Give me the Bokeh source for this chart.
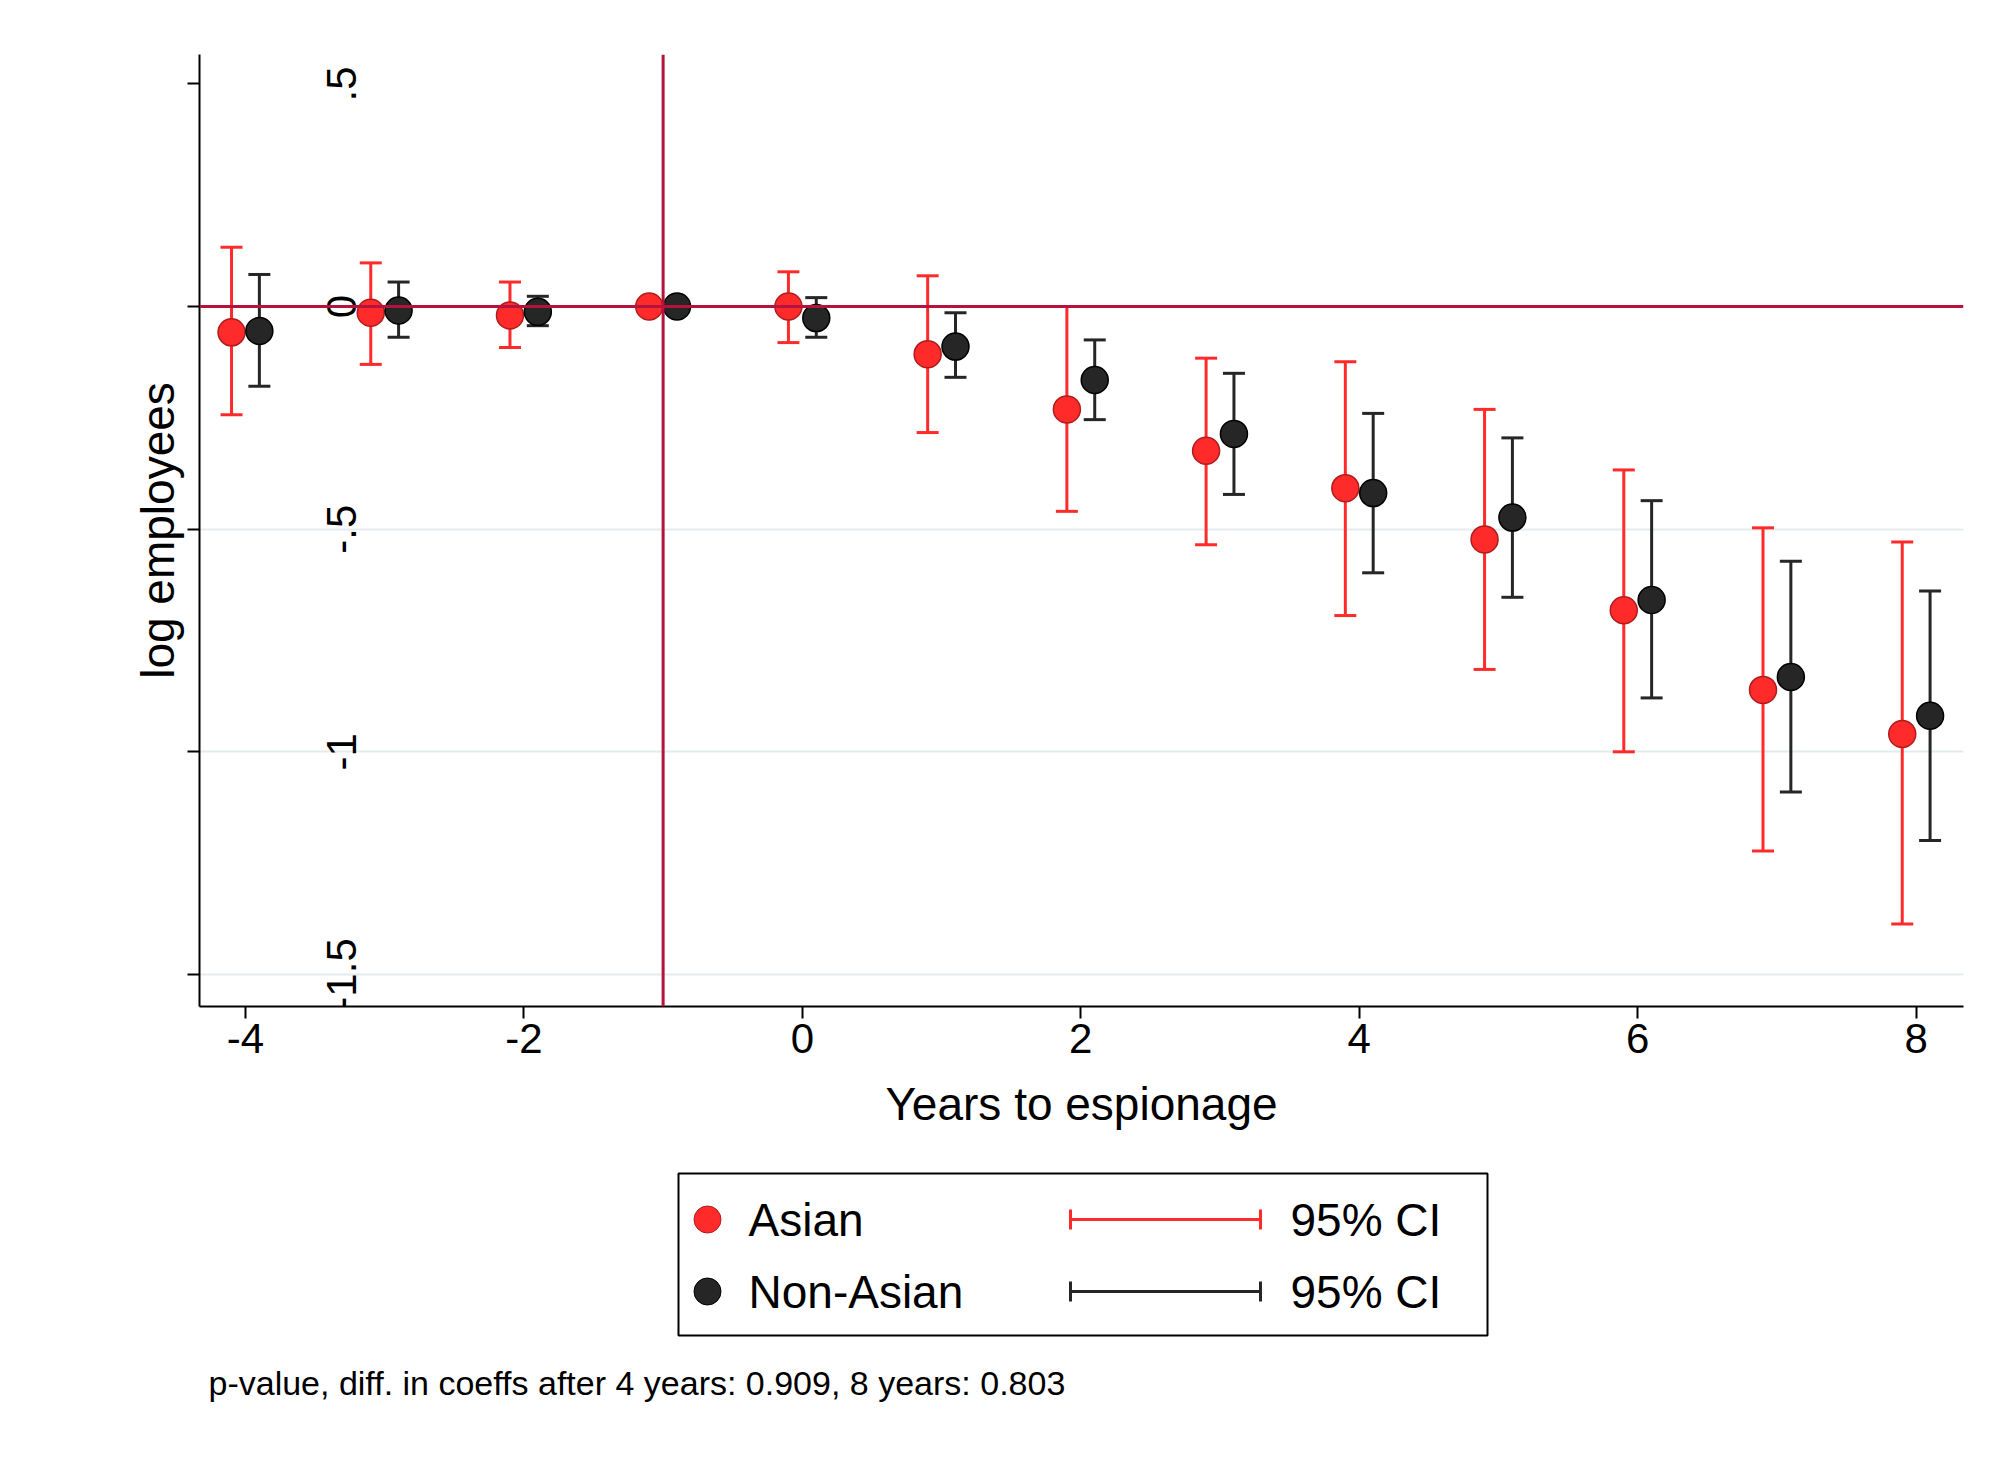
import numpy as np
from bokeh.plotting import figure
from bokeh.models import ColumnDataSource, Whisker, TeeHead, Span, FixedTicker, Range1d, Label
from bokeh.layouts import column
from bokeh.embed import file_html
from bokeh.resources import INLINE

years = [-4, -3, -2, -1, 0, 1, 2, 3, 4, 5, 6, 7, 8]
asian = [-0.058, -0.014, -0.02, 0.0, 0.0, -0.107, -0.231, -0.324, -0.408, -0.523, -0.682, -0.861, -0.96]
asian_hi = [0.133, 0.098, 0.055, 0.0, 0.078, 0.069, 0.0, -0.116, -0.124, -0.231, -0.367, -0.497, -0.529]
asian_lo = [-0.243, -0.13, -0.092, 0.0, -0.081, -0.283, -0.46, -0.535, -0.694, -0.815, -1.0, -1.223, -1.387]
non = [-0.055, -0.009, -0.012, 0.0, -0.026, -0.09, -0.165, -0.286, -0.419, -0.474, -0.659, -0.832, -0.919]
non_hi = [0.072, 0.055, 0.023, 0.0, 0.02, -0.014, -0.075, -0.15, -0.24, -0.295, -0.436, -0.572, -0.639]
non_lo = [-0.179, -0.069, -0.043, 0.0, -0.069, -0.159, -0.254, -0.422, -0.598, -0.653, -0.879, -1.09, -1.199]
xticks = [-4, -2, 0, 2, 4, 6, 8]
xlabels = {-4: "-4", -2: "-2", 0: "0", 2: "2", 4: "4", 6: "6", 8: "8"}
yticks = [0.5, 0, -0.5, -1, -1.5]
ylabels = [".5", "0", "-.5", "-1", "-1.5"]
note = "p-value, diff. in coeffs after 4 years: 0.909, 8 years: 0.803"

RED = "#ff2b2b"; DARK = "#262626"; LINE = "#b5123e"; FONT = "Liberation Sans"

p = figure(width=2000, height=1160, output_backend="svg", toolbar_location=None,
           x_range=Range1d(-4.33, 8.34), y_range=Range1d(-1.572, 0.566),
           min_border_left=199, min_border_right=37, min_border_top=54, min_border_bottom=154)
p.outline_line_color = None
p.xgrid.visible = False
p.ygrid.ticker = FixedTicker(ticks=[-0.5, -1, -1.5])
p.ygrid.grid_line_color = "#e3ecec"; p.ygrid.grid_line_width = 2
p.xaxis.ticker = FixedTicker(ticks=xticks)
p.xaxis.major_label_overrides = xlabels
p.yaxis.ticker = FixedTicker(ticks=yticks)
p.yaxis.major_label_text_color = None
for ax in (p.xaxis, p.yaxis):
    ax.minor_tick_line_color = None
    ax.axis_line_width = 2; ax.major_tick_line_width = 2
    ax.major_tick_out = 12; ax.major_tick_in = 0
    ax.major_label_text_font = FONT; ax.major_label_text_font_size = "42px"
    ax.axis_label_text_font = FONT; ax.axis_label_text_font_size = "46px"
    ax.axis_label_text_font_style = "normal"
    ax.axis_label_text_color = "black"
p.xaxis.major_label_text_color = "black"
p.xaxis.axis_label_standoff = 22
p.yaxis.axis_label_standoff = 4
p.xaxis.axis_label = "Years to espionage"
p.yaxis.axis_label = "log employees"

for t, lab in zip(yticks, ylabels):
    p.add_layout(Label(x=142, y=t, x_units="screen", text=lab, angle=np.pi / 2,
                       text_align="center", text_baseline="middle", text_font=FONT,
                       text_font_size="42px", text_color="black"))

p.add_layout(Span(location=0, dimension="width", line_color=LINE, line_width=3))
p.add_layout(Span(location=-1, dimension="height", line_color=LINE, line_width=3))

xa = [y - 0.1 for y in years]; xn = [y + 0.1 for y in years]
sa = ColumnDataSource(dict(x=xa, y=asian, lo=asian_lo, hi=asian_hi))
sn = ColumnDataSource(dict(x=xn, y=non, lo=non_lo, hi=non_hi))
for src, col in ((sa, RED), (sn, DARK)):
    w = Whisker(source=src, base="x", upper="hi", lower="lo", dimension="height",
                line_color=col, line_width=3,
                upper_head=TeeHead(size=22, line_color=col, line_width=3),
                lower_head=TeeHead(size=22, line_color=col, line_width=3))
    p.add_layout(w)
p.scatter("x", "y", source=sa, size=27, fill_color=RED, line_color="#b01c1c", line_width=1.5)
p.scatter("x", "y", source=sn, size=27, fill_color=DARK, line_color="black", line_width=1.5)

# legend / note panel (pixel coordinates, frame aligned with main plot frame)
q = figure(width=2000, height=290, output_backend="svg", toolbar_location=None,
           x_range=Range1d(199, 1963), y_range=Range1d(290, 0),
           min_border_left=199, min_border_right=37, min_border_top=0, min_border_bottom=0)
q.axis.visible = False; q.grid.visible = False; q.outline_line_color = None
q.quad(left=[678], right=[1487], top=[13], bottom=[175], fill_color="white",
       line_color="black", line_width=2)
q.scatter([707], [59], size=27, fill_color=RED, line_color="#b01c1c")
q.scatter([707], [131], size=27, fill_color=DARK, line_color="black")
for yy, col in ((59, RED), (131, DARK)):
    q.segment([1070], [yy], [1260], [yy], line_color=col, line_width=3)
    q.segment([1070, 1260], [yy - 10, yy - 10], [1070, 1260], [yy + 10, yy + 10], line_color=col, line_width=3)
for txt, xx, yy in (("Asian", 748, 59), ("Non-Asian", 748, 131), ("95% CI", 1290, 59), ("95% CI", 1290, 131)):
    q.add_layout(Label(x=xx, y=yy, text=txt, text_font=FONT, text_font_size="46px",
                       text_baseline="middle", text_color="black"))
q.add_layout(Label(x=208, y=222, text=note, text_font=FONT, text_font_size="34px",
                   text_baseline="middle", text_color="black"))

layout = column(p, q, spacing=0)
open("out.html", "w").write(file_html(layout, INLINE))
